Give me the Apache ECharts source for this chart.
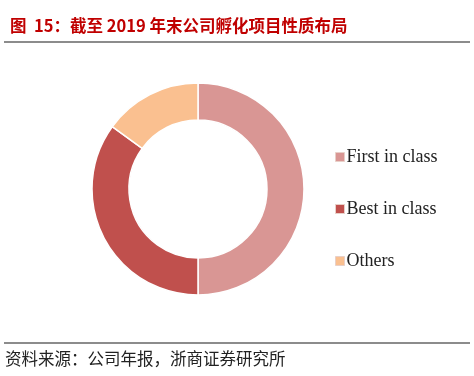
<!DOCTYPE html>
<html>
<head>
<meta charset="utf-8">
<script src="https://cdn.jsdelivr.net/npm/echarts@6/dist/echarts.min.js"></script>
<style>
  html, body { margin: 0; padding: 0; background: #fff; }
  #chart { width: 474px; height: 376px; }
</style>
</head>
<body>
<div id="chart"></div>
<script>
// 数据
var categories = ['First in class', 'Best in class', 'Others'];
var shares = [50, 35, 15];
var colors = ['#d99694', '#c0504d', '#fac090'];

var chart = echarts.init(document.getElementById('chart'));

var pieData = [];
for (var i = 0; i < categories.length; i++) {
  pieData.push({ name: categories[i], value: shares[i], itemStyle: { color: colors[i] } });
}

var option = {
  animation: false,
  backgroundColor: '#fff',
  title: {
    text: '图  15：截至 2019 年末公司孵化项目性质布局',
    left: 5, top: 12,
    textStyle: { color: '#c00000', fontSize: 16.5, fontWeight: 'bold', fontFamily: 'Noto Sans CJK SC' }
  },
  graphic: [
    { type: 'line', shape: { x1: 4, y1: 42, x2: 470, y2: 42 }, style: { stroke: '#666', lineWidth: 1.5 } },
    { type: 'line', shape: { x1: 4, y1: 343, x2: 470, y2: 343 }, style: { stroke: '#666', lineWidth: 1.5 } },
    { type: 'text', left: 5, top: 350,
      style: { text: '资料来源：公司年报，浙商证券研究所', fill: '#222', fontSize: 16.5, fontFamily: 'Noto Sans CJK SC' } }
  ],
  legend: {
    orient: 'vertical',
    left: 330, top: 143,
    itemWidth: 9, itemHeight: 9, itemGap: 34,
    icon: 'rect',
    itemStyle: { borderColor: '#e8d0c8', borderWidth: 1 },
    textStyle: { fontFamily: 'Liberation Serif', fontSize: 18, color: '#222', padding: [0, 0, 0, -3] },
    data: categories
  },
  series: [{
    type: 'pie',
    center: [198, 189],
    radius: [69, 106],
    startAngle: 90,
    clockwise: true,
    label: { show: false },
    labelLine: { show: false },
    itemStyle: { borderColor: '#fff', borderWidth: 1.5 },
    data: pieData
  }]
};
chart.setOption(option);
</script>
</body>
</html>
